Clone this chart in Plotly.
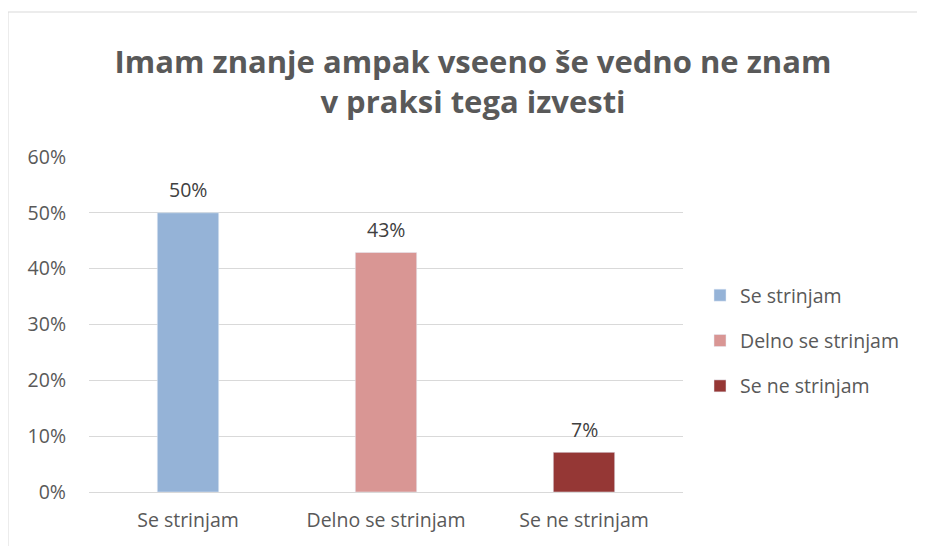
import plotly.graph_objects as go

categories = ["Se strinjam", "Delno se strinjam", "Se ne strinjam"]
values = [0.50, 0.429, 0.071]
labels = ["50%", "43%", "7%"]
colors = ["#95B3D7", "#D99694", "#953735"]
title = "Imam znanje ampak vseeno še vedno ne znam<br>v praksi tega izvesti"

FONT = "Open Sans"
OFF = 8  # page body margin
W, H = 925 - OFF, 546 - OFF
L, T = 89 - OFF, 157 - OFF
pw, ph = 594, 335
R, B = W - L - pw, H - T - ph

fig = go.Figure()
for c, v, t, col in zip(categories, values, labels, colors):
    fig.add_trace(go.Bar(
        x=[c], y=[v], name=c, marker_color=col, width=0.31, legendgroup=c,
    ))
    fig.add_annotation(x=c, y=v, text=t, showarrow=False, yanchor="middle", yshift=23,
                       font=dict(family=FONT, size=19.5, color="#404040"))

fig.add_shape(type="rect", xref="paper", yref="paper",
              x0=(0 - L) / pw, x1=(W + 20 - L) / pw,
              y0=-(B + 20) / ph, y1=1 + (T - 4) / ph,
              line=dict(color="#D9D9D9", width=1), fillcolor="rgba(0,0,0,0)", layer="below")

fig.update_layout(
    width=W, height=H,
    margin=dict(l=L, r=R, t=T, b=B),
    paper_bgcolor="white", plot_bgcolor="white",
    title=dict(text=title, x=(473 - OFF) / W, xanchor="center", y=1 - (73 - OFF) / H, yanchor="middle",
               font=dict(family=FONT, size=31, color="#595959", weight="bold")),
    showlegend=True,
    legend=dict(x=(692 - L) / pw, xanchor="left", y=(492 - 341) / ph, yanchor="middle",
                font=dict(family=FONT, size=19.5, color="#595959"),
                itemwidth=30, tracegroupgap=17, bgcolor="rgba(0,0,0,0)"),
    bargap=0.69,
    xaxis=dict(categoryorder="array", categoryarray=categories, showline=True,
               linecolor="#D9D9D9", ticks="", ticklabelstandoff=11,
               tickfont=dict(family=FONT, size=19.5, color="#595959")),
    yaxis=dict(range=[0, 0.6], dtick=0.1, tickformat=".0%", showgrid=True, gridcolor="#D9D9D9",
               zeroline=False, ticks="", ticklabelstandoff=22,
               tickfont=dict(family=FONT, size=19.5, color="#595959")),
)
fig.write_html("out.html")
